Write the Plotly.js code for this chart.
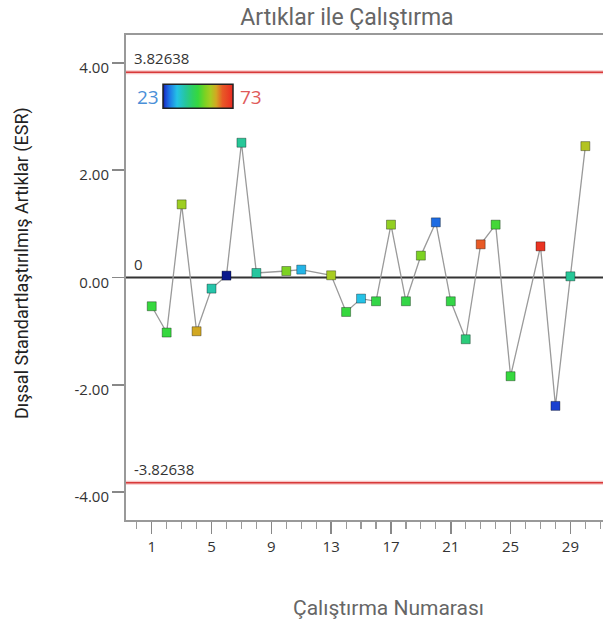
<!DOCTYPE html>
<html>
<head>
<meta charset="utf-8">
<script src="https://cdn.plot.ly/plotly-3.0.1.min.js"></script>
<style>
  html, body { margin: 0; padding: 0; background: #fff; }
  #chart { width: 603px; height: 625px; }
</style>
</head>
<body>
<div id="chart"></div>
<script>
// Run order and externally studentized residuals
const runs = [1, 2, 3, 4, 5, 6, 7, 8, 10, 11, 13, 14, 15, 16, 17, 18, 19, 20, 21, 22, 23, 24, 25, 27, 28, 29, 30];
const esr = [-0.536, -1.026, 1.363, -1.002, -0.207, 0.035, 2.512, 0.084, 0.121, 0.147, 0.041, -0.642, -0.393, -0.443,
             0.985, -0.443, 0.408, 1.028, -0.443, -1.151, 0.618, 0.985, -1.84, 0.581, -2.393, 0.022, 2.449];
// Colour variable for each run
const colorValue = [48, 48, 56, 61, 38, 23, 39.5, 39, 53, 32, 57, 48, 33, 47, 55, 47, 53, 27, 47, 42, 65.5, 49, 48, 71.5, 24.5, 39.5, 58];

const COLOR_MIN = 23;
const COLOR_MAX = 73;
const LIMIT = 3.82638;

const yTickVals = [-4, -2, 0, 2, 4];
const yTickText = ['-4.00', '-2.00', '0.00', '2.00', '4.00'];
const xTickVals = [1, 5, 9, 13, 17, 21, 25, 29];

const colorscale = [
  [0.00, '#0b1a8c'],
  [0.03, '#1a40d0'],
  [0.09, '#1e74e6'],
  [0.20, '#24c2e6'],
  [0.32, '#26c69e'],
  [0.42, '#2ed062'],
  [0.50, '#36d83e'],
  [0.60, '#7cd222'],
  [0.68, '#a8cc22'],
  [0.76, '#d2a822'],
  [0.85, '#e85a26'],
  [1.00, '#ea2a22']
];

const lineTrace = {
  type: 'scatter',
  mode: 'lines',
  x: runs,
  y: esr,
  line: { color: '#9a9a9a', width: 1.3 },
  hoverinfo: 'skip',
  showlegend: false
};

const pointTrace = {
  type: 'scatter',
  mode: 'markers',
  x: runs,
  y: esr,
  marker: {
    symbol: 'square',
    size: 9,
    color: colorValue,
    cmin: COLOR_MIN,
    cmax: COLOR_MAX,
    colorscale: colorscale,
    line: { color: 'rgba(0,0,0,0.35)', width: 1 },
    showscale: true,
    colorbar: {
      orientation: 'h',
      x: 0.15, xanchor: 'center',
      y: 0.873, yanchor: 'middle',
      len: 70, lenmode: 'pixels',
      thickness: 24, thicknessmode: 'pixels',
      xpad: 0, ypad: 0,
      showticklabels: false,
      ticks: '',
      outlinewidth: 1.5,
      outlinecolor: '#222',
      borderwidth: 0
    }
  },
  showlegend: false
};

const labelFont = { family: 'Open Sans, sans-serif', size: 15, color: '#333' };

const layout = {
  width: 603,
  height: 625,
  margin: { l: 126, r: 0, t: 35, b: 105 },
  paper_bgcolor: '#fff',
  plot_bgcolor: '#fff',
  title: {
    text: 'Artıklar ile Çalıştırma',
    font: { family: 'Roboto, sans-serif', size: 23, color: '#666' },
    xref: 'container', x: 347 / 603, xanchor: 'center',
    yref: 'container', y: 1 - 17 / 625, yanchor: 'middle'
  },
  xaxis: {
    range: [-0.72, 31.18],
    showgrid: false,
    zeroline: false,
    showline: true,
    linecolor: '#999',
    linewidth: 2,
    mirror: true,
    ticks: 'outside',
    ticklen: 12,
    tickwidth: 1.5,
    tickcolor: '#888',
    tickvals: xTickVals,
    tickfont: labelFont,
    minor: { dtick: 1, tick0: 0, ticks: 'outside', ticklen: 7, tickwidth: 1.2, tickcolor: '#999', showgrid: false }
  },
  yaxis: {
    range: [-4.52, 4.52],
    showgrid: false,
    zeroline: false,
    showline: true,
    linecolor: '#999',
    linewidth: 2,
    ticks: 'outside',
    ticklen: 12,
    tickwidth: 1.5,
    tickcolor: '#888',
    tickvals: yTickVals,
    ticktext: yTickText,
    ticklabelshift: 5,
    ticklabelstandoff: 0,
    tickfont: labelFont
  },
  shapes: [
    { type: 'line', xref: 'paper', x0: 0, x1: 1, yref: 'y', y0: LIMIT, y1: LIMIT, line: { color: 'rgba(230,90,90,0.35)', width: 4 }, layer: 'below' },
    { type: 'line', xref: 'paper', x0: 0, x1: 1, yref: 'y', y0: LIMIT, y1: LIMIT, line: { color: '#d83a3a', width: 1.6 }, layer: 'below' },
    { type: 'line', xref: 'paper', x0: 0, x1: 1, yref: 'y', y0: -LIMIT, y1: -LIMIT, line: { color: 'rgba(230,90,90,0.35)', width: 4 }, layer: 'below' },
    { type: 'line', xref: 'paper', x0: 0, x1: 1, yref: 'y', y0: -LIMIT, y1: -LIMIT, line: { color: '#d83a3a', width: 1.6 }, layer: 'below' },
    { type: 'line', xref: 'paper', x0: 0, x1: 1, yref: 'y', y0: 0, y1: 0, line: { color: '#333', width: 2 }, layer: 'below' }
  ],
  annotations: [
    { xref: 'paper', x: 0.012, xanchor: 'left', yref: 'y', y: LIMIT, yanchor: 'bottom', yshift: 2,
      text: LIMIT.toFixed(5), showarrow: false, font: labelFont },
    { xref: 'paper', x: 0.012, xanchor: 'left', yref: 'y', y: -LIMIT, yanchor: 'bottom', yshift: 2,
      text: '-' + LIMIT.toFixed(5), showarrow: false, font: labelFont },
    { xref: 'paper', x: 0.012, xanchor: 'left', yref: 'y', y: 0, yanchor: 'bottom', yshift: 2,
      text: '0', showarrow: false, font: labelFont },
    { xref: 'paper', x: 0.15 - 37 / 477, xanchor: 'right', yref: 'paper', y: 0.873, yanchor: 'middle',
      text: String(COLOR_MIN), showarrow: false, font: { family: 'Open Sans, sans-serif', size: 19, color: '#4a8fd8' } },
    { xref: 'paper', x: 0.15 + 40 / 477, xanchor: 'left', yref: 'paper', y: 0.873, yanchor: 'middle',
      text: String(COLOR_MAX), showarrow: false, font: { family: 'Open Sans, sans-serif', size: 19, color: '#e05a5a' } },
    { xref: 'paper', x: (388 - 126) / 477, xanchor: 'center', yref: 'paper', y: -(608 - 520) / 485, yanchor: 'middle',
      text: 'Çalıştırma Numarası', showarrow: false, font: { family: 'Roboto, sans-serif', size: 21, color: '#666' } },
    { xref: 'paper', x: -(126 - 22) / 477, xanchor: 'center', yref: 'paper', y: (520 - 263) / 485, yanchor: 'middle',
      textangle: -90, text: 'Dışsal Standartlaştırılmış Artıklar (ESR)', showarrow: false,
      font: { family: 'Roboto, sans-serif', size: 18, color: '#222' } }
  ]
};

Plotly.newPlot('chart', [lineTrace, pointTrace], layout, { displayModeBar: false, staticPlot: true });
</script>
</body>
</html>
